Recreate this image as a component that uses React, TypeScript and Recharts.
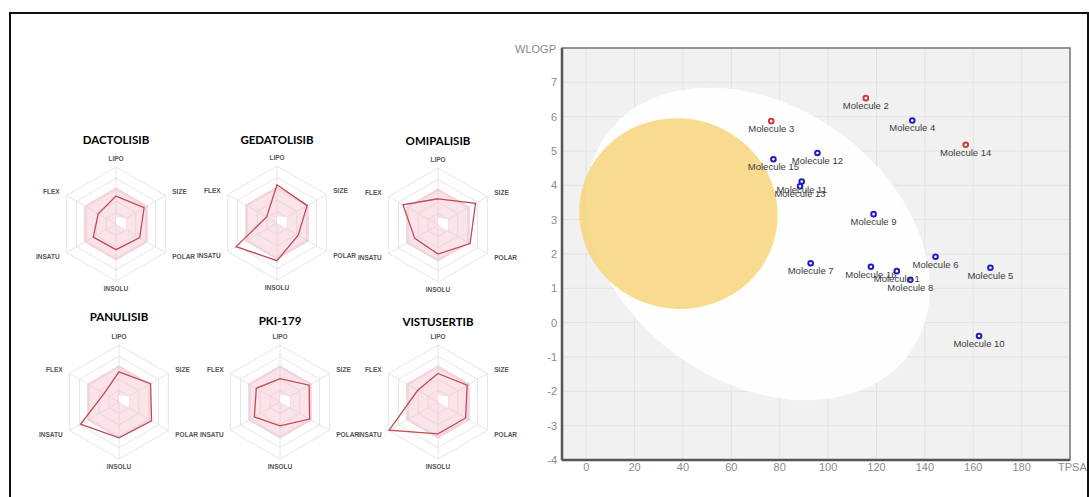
import React from "react";
import {
  ScatterChart,
  Scatter,
  XAxis,
  YAxis,
  CartesianGrid,
  ReferenceArea,
  LabelList,
  RadarChart,
  Radar,
  PolarGrid,
  PolarAngleAxis,
  PolarRadiusAxis,
} from "recharts";

// ---- bioavailability radars (values as fraction of the outer ring) ----
const radarAxes = ["LIPO", "SIZE", "POLAR", "INSOLU", "INSATU", "FLEX"];
const rangeUpper = [0.63, 0.63, 0.63, 0.63, 0.63, 0.63];
const rangeLower = [0.12, 0.2, 0.2, 0, 0.03, 0];

const drugNames = ["DACTOLISIB", "GEDATOLISIB", "OMIPALISIB", "PANULISIB", "PKI-179", "VISTUSERTIB"];
const dactolisib = [0.49, 0.57, 0.48, 0.45, 0.46, 0.36];
const gedatolisib = [0.67, 0.61, 0.43, 0.66, 0.83, 0.21];
const omipalisib = [0.46, 0.76, 0.65, 0.51, 0.47, 0.71];
const panulisib = [0.53, 0.64, 0.66, 0.63, 0.78, 0.3];
const pki179 = [0.41, 0.59, 0.6, 0.42, 0.52, 0.48];
const vistusertib = [0.5, 0.59, 0.56, 0.56, 0.99, 0.41];
const drugValues = [dactolisib, gedatolisib, omipalisib, panulisib, pki179, vistusertib];

// ---- BOILED-Egg ----
const moleculeNames = [
  "Molecule 1", "Molecule 2", "Molecule 3", "Molecule 4", "Molecule 5", "Molecule 6",
  "Molecule 7", "Molecule 8", "Molecule 9", "Molecule 10", "Molecule 11", "Molecule 12",
  "Molecule 13", "Molecule 14", "Molecule 15", "Molecule 16",
];
const tpsa = [128.4, 115.6, 76.5, 134.8, 167.1, 144.4, 92.8, 134.0, 118.8, 162.4, 89.1, 95.6, 88.4, 156.9, 77.4, 117.7];
const wlogp = [1.5, 6.54, 5.87, 5.89, 1.6, 1.92, 1.73, 1.25, 3.16, -0.39, 4.11, 4.94, 3.97, 5.18, 4.76, 1.63];
const pgpNegative = [false, true, true, false, false, false, false, false, false, false, false, false, false, true, false, false];

const xTicks = [0, 20, 40, 60, 80, 100, 120, 140, 160, 180];
const yTicks = [-4, -3, -2, -1, 0, 1, 2, 3, 4, 5, 6, 7];

// ellipses: centre, full axes, rotation (deg) in TPSA/WLOGP units
const eggWhite = { tpsa: 71.051, wlogp: 2.292, a: 142.081, b: 8.74, angle: -1.031325 };
const eggYolk = { tpsa: 38.117, wlogp: 3.177, a: 82.061, b: 5.557, angle: -0.066856 };

const radarPos = [
  { cx: 116, cy: 224, titleY: 140 },
  { cx: 277, cy: 223, titleY: 140 },
  { cx: 438, cy: 225, titleY: 141 },
  { cx: 119, cy: 402, titleY: 317 },
  { cx: 280, cy: 402, titleY: 321 },
  { cx: 438, cy: 402, titleY: 322 },
];

const R = 57;

function AxisTick(props: any) {
  const { x, y, payload, textAnchor } = props;
  return (
    <text x={x} y={y} dy="0.35em" textAnchor={textAnchor} fontSize={6.5} fontWeight={600} fill="#555">
      {payload.value}
    </text>
  );
}

function DrugRadar({ name, values, pos }: { name: string; values: number[]; pos: any }) {
  const data = radarAxes.map((axis, i) => ({
    axis,
    upper: rangeUpper[i],
    lower: rangeLower[i],
    value: values[i],
  }));
  return (
    <>
      <div
        style={{
          position: "absolute",
          left: pos.cx - 80,
          top: pos.titleY - 9,
          width: 160,
          textAlign: "center",
          fontFamily: "Lato, 'Open Sans', sans-serif",
          fontWeight: 700,
          fontSize: 11.5,
          lineHeight: "18px",
          color: "#000",
        }}
      >
        {name}
      </div>
      <div style={{ position: "absolute", left: pos.cx - 85, top: pos.cy - 85 }}>
        <RadarChart width={170} height={170} data={data} cx={85} cy={85} outerRadius={R} margin={{ top: 0, right: 0, bottom: 0, left: 0 }}>
          <PolarGrid gridType="polygon" polarRadius={[R * 0.2, R * 0.4, R * 0.6, R * 0.8, R]} stroke="#e6e6e6" />
          <PolarAngleAxis dataKey="axis" tick={AxisTick} tickLine={false} axisLine={false} />
          <PolarRadiusAxis domain={[0, 1]} tick={false} axisLine={false} />
          <Radar dataKey="upper" fill="#f2bccb" fillOpacity={0.42} stroke="#ebb9c6" strokeWidth={0.8} isAnimationActive={false} />
          <Radar dataKey="lower" fill="#ffffff" fillOpacity={1} stroke="none" isAnimationActive={false} />
          <Radar
            dataKey="value"
            fill="none"
            fillOpacity={0}
            stroke="#c24a54"
            strokeWidth={1.3}
            dot={{ r: 1.2, fill: "#c24a54", stroke: "none" }}
            isAnimationActive={false}
          />
        </RadarChart>
      </div>
    </>
  );
}

// centre + end of each half axis, so the library scales give the ellipse in pixels
function eggPoints(e: typeof eggWhite) {
  const t = (e.angle * Math.PI) / 180;
  return [
    { x: e.tpsa, y: e.wlogp },
    { x: e.tpsa + (e.a / 2) * Math.cos(t), y: e.wlogp + (e.a / 2) * Math.sin(t) },
    { x: e.tpsa - (e.b / 2) * Math.sin(t), y: e.wlogp + (e.b / 2) * Math.cos(t) },
  ];
}

function eggLine(color: string, opacity: number) {
  return (p: any) => {
    const pts = p.points || [];
    if (pts.length < 3) return <g />;
    const [c, u, v] = pts;
    const m = `matrix(${u.x - c.x} ${u.y - c.y} ${v.x - c.x} ${v.y - c.y} ${c.x} ${c.y})`;
    return <ellipse cx={0} cy={0} rx={1} ry={1} transform={m} fill={color} fillOpacity={opacity} stroke="none" />;
  };
}

const molecules = moleculeNames.map((name, i) => ({
  name,
  x: tpsa[i],
  y: wlogp[i],
  color: pgpNegative[i] ? "#cf3b3b" : "#1c1cc0",
}));

const MoleculeDot = (p: any) => (
  <circle cx={p.cx} cy={p.cy} r={2.3} fill="#fff" stroke={p.payload.color} strokeWidth={2} />
);

const MoleculeLabel = (p: any) => {
  const vb = p.viewBox || {};
  const cx = vb.x != null ? vb.x + (vb.width || 0) / 2 : p.x;
  const cy = vb.y != null ? vb.y + (vb.height || 0) / 2 : p.y;
  return (
    <text x={cx} y={cy + 11} textAnchor="middle" fontSize={9.5} fill="#3c3c3c">
      {p.value}
    </text>
  );
};

const wlogpLabel = (p: any) => {
  const vb = p.viewBox || { x: 0, y: 18, width: 62 };
  return (
    <text x={vb.x + vb.width - 6} y={vb.y + 1} dy="0.35em" textAnchor="end" fontSize={11} fill="#8a8a8a">
      WLOGP
    </text>
  );
};

const tpsaLabel = (p: any) => {
  const vb = p.viewBox || { x: 62, y: 430, width: 508 };
  return (
    <text x={vb.x + vb.width - 12} y={vb.y + 7} dy="0.35em" textAnchor="start" fontSize={11} fill="#8a8a8a">
      TPSA
    </text>
  );
};

export default function App() {
  return (
    <div
      style={{
        position: "relative",
        width: 1089,
        height: 497,
        overflow: "hidden",
        background: "#fff",
        fontFamily: "'Liberation Sans', Arial, sans-serif",
      }}
    >
      <style>{`body{margin:0}`}</style>
      <div
        style={{
          position: "absolute",
          left: 9,
          top: 12,
          width: 1076,
          height: 490,
          borderTop: "2.5px solid #111",
          borderLeft: "2.5px solid #111",
          borderRight: "2px solid #111",
        }}
      />

      {drugNames.map((name, i) => (
        <DrugRadar key={name} name={name} values={drugValues[i]} pos={radarPos[i]} />
      ))}

      <div style={{ position: "absolute", left: 500, top: 30 }}>
        <ScatterChart width={589} height={467} margin={{ top: 18, right: 19, bottom: 7, left: 0 }}>
          <CartesianGrid fill="#f1f1f1" fillOpacity={1} stroke="#e2e2e2" />
          <XAxis
            type="number"
            dataKey="x"
            domain={[-10, 200]}
            ticks={xTicks}
            height={30}
            tickSize={0}
            tickMargin={3}
            tickLine={false}
            axisLine={{ stroke: "#555", strokeWidth: 2.5 }}
            tick={{ fontSize: 11, fill: "#8a8a8a" }}
            label={{ content: tpsaLabel }}
          />
          <YAxis
            type="number"
            dataKey="y"
            domain={[-4, 8]}
            ticks={yTicks}
            width={62}
            tickSize={0}
            tickMargin={5}
            tickLine={false}
            axisLine={{ stroke: "#555", strokeWidth: 2.5 }}
            tick={{ fontSize: 11, fill: "#8a8a8a" }}
            label={{ content: wlogpLabel }}
          />
          <Scatter data={eggPoints(eggWhite)} line={eggLine("#ffffff", 0.93)} shape={() => <g />} isAnimationActive={false} />
          <Scatter data={eggPoints(eggYolk)} line={eggLine("#f8d57c", 0.85)} shape={() => <g />} isAnimationActive={false} />
          <ReferenceArea x1={-10} x2={200} y1={-4} y2={8} fill="none" stroke="#777" strokeWidth={1.5} />
          <Scatter data={molecules} shape={MoleculeDot} isAnimationActive={false}>
            <LabelList dataKey="name" content={MoleculeLabel} />
          </Scatter>
        </ScatterChart>
      </div>
    </div>
  );
}
